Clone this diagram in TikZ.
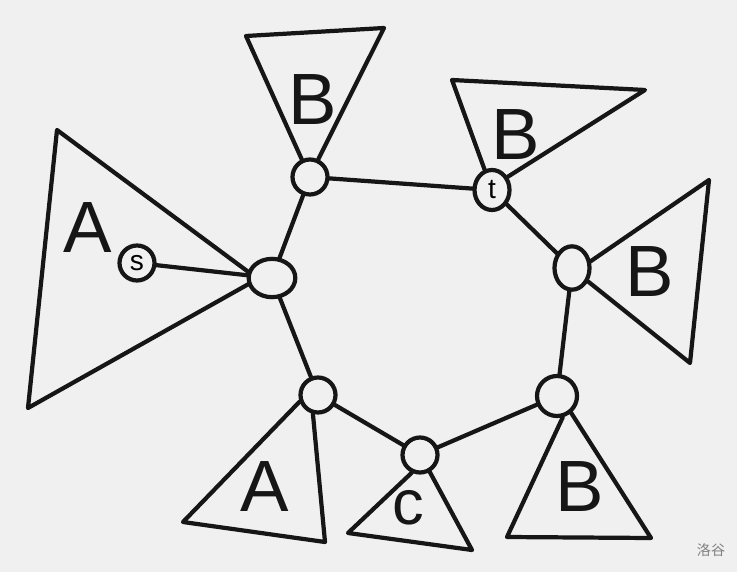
\documentclass[tikz,border=0pt]{standalone}
\usepackage{fontspec}
\setsansfont{Liberation Sans}
\newfontfamily\cjk{Noto Sans CJK SC}
\usetikzlibrary{shapes.geometric}
\definecolor{paper}{RGB}{240,240,240}
\definecolor{ink}{RGB}{22,22,22}
\begin{document}
\begin{tikzpicture}[x=0.03cm,y=-0.03cm,line width=3.6pt,line cap=round,line join=round,draw=ink,
    vtx/.style={draw,ellipse,inner sep=0pt,minimum width=1.05cm,minimum height=1.05cm,font=\sffamily\fontsize{24}{24}\selectfont},
    tree/.style={text=ink,font=\sffamily\fontsize{62}{62}\selectfont}]
                \fill[paper] (0,0) rectangle (737,572);
                \useasboundingbox (0,0) rectangle (737,572);

                \node[vtx]  (s)  at (137,263) {s};
                \node[vtx, minimum width=1.4cm, minimum height=1.15cm] (h1) at (272,278) {};
                \node[vtx]  (h2) at (310,177) {};
                \node[vtx, minimum height=1.2cm]  (t)  at (492,190) {t};
                \node[vtx, minimum height=1.3cm] (h3) at (572,268) {};
                \node[vtx, minimum width=1.2cm, minimum height=1.2cm] (h4) at (557,396) {};
                \node[vtx]  (h5) at (420,455) {};
                \node[vtx]  (h6) at (318,395) {};

                \path[-] (h1) edge (h2)
                              edge (h6)
                              edge (s)
                         (h2) edge (t)
                         (t)  edge (h3)
                         (h3) edge (h4)
                         (h4) edge (h5)
                         (h5) edge (h6);

                % subtrees hanging off the cycle
                \draw (h1.165) -- (57,130) -- (28,408) -- (h1.195);
                \draw (h2.115) -- (246,36) -- (384,28) -- (h2.65);
                \draw (t.110) -- (452,80) -- (645,90) -- (t.40);
                \draw (h3.20) -- (709,180) -- (690,363) -- (h3.-40);
                \draw (h4.-75) -- (507,537) -- (651,538) -- (h4.-50);
                \draw (h6.200) -- (183,522) -- (325,542) -- (h6.255);
                \draw (h5.-115) -- (348,533) -- (472,550) -- (h5.-60);

                \node[tree] (la1) at (88,228)  {A};
                \node[tree] (lb1) at (313,100) {B};
                \node[tree] (lb2) at (516,135) {B};
                \node[tree] (lb3) at (650,272) {B};
                \node[tree] (lb4) at (580,487) {B};
                \node[tree] (la2) at (265,487) {A};
                \node[tree, font=\sffamily\fontsize{54}{54}\selectfont] (lc) at (408,508) {c};
                \node[text=gray, font=\cjk\fontsize{12}{12}\selectfont] (mark) at (711,550) {洛谷};
\end{tikzpicture}
\end{document}
